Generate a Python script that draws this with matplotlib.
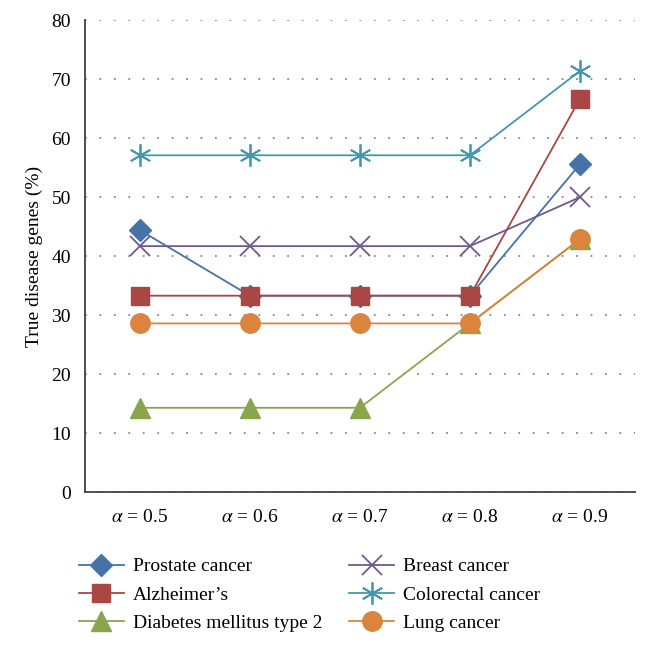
import numpy as np
import matplotlib
matplotlib.use("Agg")
from matplotlib import pyplot as plt

plt.rcParams['font.family'] = ['Liberation Serif', 'DejaVu Serif']
plt.rcParams['mathtext.fontset'] = 'stix'

######### Data ############
categories = [r'$\alpha$ = 0.5', r'$\alpha$ = 0.6', r'$\alpha$ = 0.7', r'$\alpha$ = 0.8', r'$\alpha$ = 0.9']
prostate = [44.4, 33.3, 33.3, 33.3, 55.6]
alzheimers = [33.3, 33.3, 33.3, 33.3, 66.7]
diabetes = [14.3, 14.3, 14.3, 28.6, 42.9]
breast = [41.7, 41.7, 41.7, 41.7, 50.0]
colorectal = [57.1, 57.1, 57.1, 57.1, 71.4]
lung = [28.6, 28.6, 28.6, 28.6, 42.9]
yticks = [0, 10, 20, 30, 40, 50, 60, 70, 80]
###########################

fig = plt.figure(figsize=(6.48, 6.51), dpi=100)
ax = fig.add_axes([0.131, 0.244, 0.849, 0.725])
x = np.arange(len(categories))

ax.plot(x, prostate, color='#4572A7', marker='D', markersize=11, lw=1.3, label='Prostate cancer')
ax.plot(x, alzheimers, color='#AA4643', marker='s', markersize=13, lw=1.3, label="Alzheimer\u2019s")
ax.plot(x, diabetes, color='#89A54E', marker='^', markersize=14, lw=1.3, label='Diabetes mellitus type 2')
ax.plot(x, breast, color='#71588F', marker='x', markersize=15, mew=1.3, lw=1.3, label='Breast cancer')
ax.plot(x, colorectal, color='#4198AF', marker=(6, 2, 0), markersize=16, mew=1.3, lw=1.3, label='Colorectal cancer')
ax.plot(x, lung, color='#DB843D', marker='o', markersize=14, lw=1.3, label='Lung cancer')

ax.set_xlim(-0.5, 4.5)
ax.set_ylim(0, 80)
ax.set_xticks(x)
ax.set_xticklabels(categories, fontsize=14)
ax.set_yticks(yticks)
ax.tick_params(axis='y', labelsize=14, length=0, pad=10)
ax.tick_params(axis='x', length=0, pad=12)
ax.set_ylabel('True disease genes (%)', fontsize=14, labelpad=6)
ax.yaxis.grid(True, linestyle=(0, (1, 7)), color='#888888', lw=1.3)
ax.set_axisbelow(True)
for s in ['top', 'right']:
    ax.spines[s].set_visible(False)
for s in ['left', 'bottom']:
    ax.spines[s].set_color('#404040')
    ax.spines[s].set_linewidth(1.3)

fig.legend(loc='upper left', bbox_to_anchor=(0.095, 0.17), ncol=2, frameon=False,
           fontsize=14, handlelength=2.3, columnspacing=1.4, labelspacing=0.55,
           handletextpad=0.45)

plt.savefig('out.png', dpi=100)
